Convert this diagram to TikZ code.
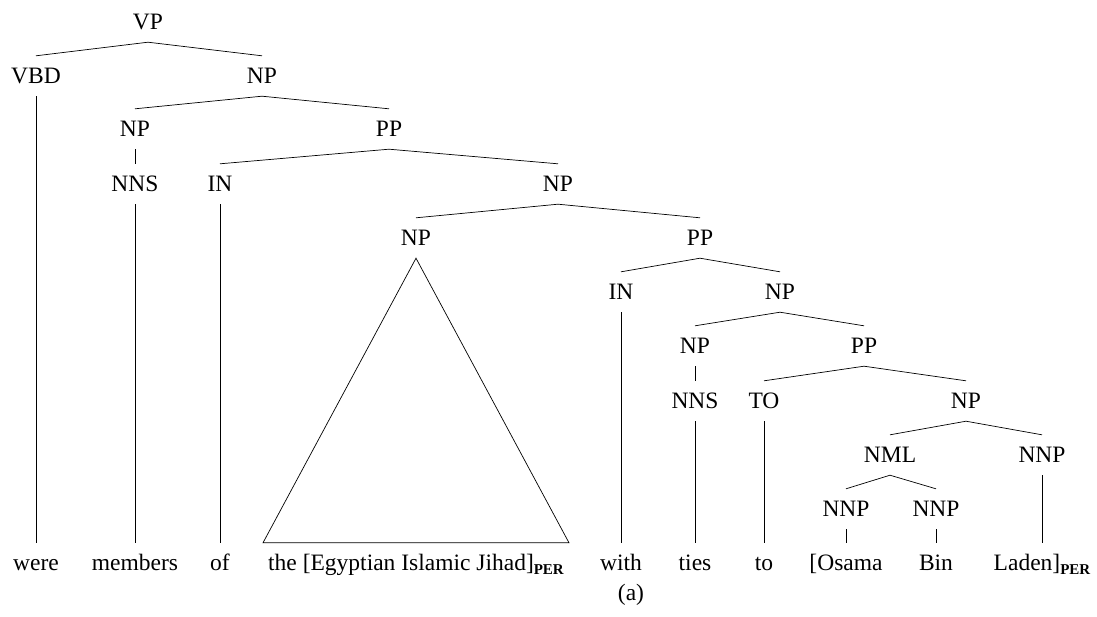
\documentclass[tikz,border=0pt]{standalone}
\usepackage{fontspec}
\setmainfont{Liberation Serif}
\usepackage{tikz}
\usetikzlibrary{shapes,arrows}
\usetikzlibrary{positioning}
\tikzstyle{cat} = [inner sep=0pt, minimum height=40pt, text height=15pt,
    text depth=0pt, font=\fontsize{23.5}{28}\selectfont]
\tikzstyle{word} = [cat]
\tikzstyle{edge} = [line width=0.7pt]
\newcommand{\pertag}{\raisebox{-4pt}{\fontsize{15}{18}\selectfont\bfseries PER}}

\begin{document}
\begin{tikzpicture}[x=1pt,y=-1pt]
  \useasboundingbox (0,0) rectangle (1097,616);
  % categories
  \node [cat] (vp) at (148,22) {VP};
  \node [cat] (vbd) at (36,76) {VBD};
  \node [cat] (np1) at (262,76) {NP};
  \node [cat] (np2) at (135,129) {NP};
  \node [cat] (pp1) at (389,129) {PP};
  \node [cat] (nns1) at (135,184) {NNS};
  \node [cat] (in1) at (220,184) {IN};
  \node [cat] (np3) at (558,184) {NP};
  \node [cat] (np4) at (416,238) {NP};
  \node [cat] (pp2) at (700,238) {PP};
  \node [cat] (in2) at (621,292) {IN};
  \node [cat] (np5) at (780,292) {NP};
  \node [cat] (np6) at (695,346) {NP};
  \node [cat] (pp3) at (864,346) {PP};
  \node [cat] (nns2) at (695,401) {NNS};
  \node [cat] (to) at (764,401) {TO};
  \node [cat] (np7) at (966,401) {NP};
  \node [cat] (nml) at (890,455) {NML};
  \node [cat] (nnp1) at (1042,455) {NNP};
  \node [cat] (nnp2) at (846,509) {NNP};
  \node [cat] (nnp3) at (936,509) {NNP};
  % words
  \node [word] (were) at (36,563) {were};
  \node [word] (members) at (135,563) {members};
  \node [word] (of) at (220,563) {of};
  \node [word, inner xsep=5pt] (jihad) at (416,563)
    {the [Egyptian Islamic Jihad]\pertag};
  \node [word] (with) at (621,563) {with};
  \node [word] (ties) at (695,563) {ties};
  \node [word] (to2) at (764,563) {to};
  \node [word] (osama) at (846,563) {[Osama};
  \node [word] (bin) at (936,563) {Bin};
  \node [word] (laden) at (1042,563) {Laden]\pertag};
  \node [word] (caption) at (631,593) {(a)};
  % branches
  \foreach \p/\c in {vp/vbd, vp/np1, np1/np2, np1/pp1, np2/nns1, pp1/in1,
      pp1/np3, np3/np4, np3/pp2, pp2/in2, pp2/np5, np5/np6, np5/pp3,
      np6/nns2, pp3/to, pp3/np7, np7/nml, np7/nnp1, nml/nnp2, nml/nnp3,
      vbd/were, nns1/members, in1/of, in2/with, nns2/ties, to/to2,
      nnp2/osama, nnp3/bin, nnp1/laden}
    \draw [edge] (\p.south) -- (\c.north);
  \draw [edge] (np4.south) -- (jihad.north west) -- (jihad.north east) -- cycle;
\end{tikzpicture}
\end{document}
